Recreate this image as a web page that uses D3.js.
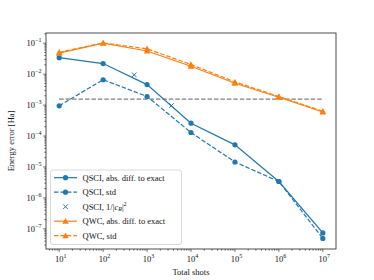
<!DOCTYPE html>
<html>
<head>
<meta charset="utf-8">
<script src="https://cdn.jsdelivr.net/npm/d3@7"></script>
<style>
  html, body { margin: 0; padding: 0; background: #fff; }
  svg { display: block; font-family: "Liberation Serif", "DejaVu Serif", serif; }
</style>
</head>
<body>
<svg id="chart" width="374" height="280"></svg>
<script>
/* Energy error vs. total shots — log/log */

const shots    = [1e1, 1e2, 1e3, 1e4, 1e5, 1e6, 1e7];
const qsciAbs  = [0.034, 0.022, 0.0046, 2.6e-4, 5.2e-5, 3.4e-6, 7.4e-8];
const qsciStd  = [9.5e-4, 0.0066, 0.0019, 1.3e-4, 1.45e-5, 3.4e-6, 4.9e-8];
const crossShots = [510, 3600];
const crossVals  = [0.0095, 9.7e-4];
const qwcAbs   = [0.048, 0.1, 0.056, 0.018, 0.0051, 0.0018, 6.0e-4];
const qwcStd   = [0.051, 0.102, 0.066, 0.0205, 0.0056, 0.0019, 6.3e-4];
const refLevel = 1.55e-3;
const refShots = [1e1, 1e7];

const xTickExp = [1, 2, 3, 4, 5, 6, 7];
const yTickExp = [-7, -6, -5, -4, -3, -2, -1];

const BLUE = '#1f77b4', ORANGE = '#ff7f0e', GREY = '#7f7f7f';
const FS = 8.5, FS_SUP = 6;

const svg = d3.select('#chart');
const M = { left: 46, right: 336, top: 33, bottom: 249 };

const x = d3.scaleLog().domain([Math.pow(10, 0.7), Math.pow(10, 7.3)]).range([M.left, M.right]);
const y = d3.scaleLog().domain([Math.pow(10, -7.65), Math.pow(10, -0.67)]).range([M.bottom, M.top]);

/* ── ticks ── */
function minorTicks(lo, hi) {
  const out = [];
  for (let e = Math.floor(Math.log10(lo)); e <= Math.ceil(Math.log10(hi)); e++) {
    for (let k = 2; k <= 9; k++) {
      const v = k * Math.pow(10, e);
      if (v >= lo && v <= hi) out.push(v);
    }
  }
  return out;
}

const tickG = svg.append('g').attr('stroke', '#222').attr('stroke-width', 0.65);

minorTicks(...x.domain()).forEach(v => {
  tickG.append('line').attr('x1', x(v)).attr('x2', x(v))
    .attr('y1', M.bottom).attr('y2', M.bottom + 1.7);
});
minorTicks(...y.domain()).forEach(v => {
  tickG.append('line').attr('y1', y(v)).attr('y2', y(v))
    .attr('x1', M.left).attr('x2', M.left - 1.7);
});

function powLabel(sel, exp) {
  sel.append('tspan').text('10');
  sel.append('tspan').attr('dy', -3.8).attr('font-size', FS_SUP)
    .text(exp < 0 ? '\u2212' + (-exp) : String(exp));
}

xTickExp.forEach(e => {
  const px = x(Math.pow(10, e));
  tickG.append('line').attr('x1', px).attr('x2', px)
    .attr('y1', M.bottom).attr('y2', M.bottom + 2.9);
  const t = svg.append('text').attr('x', px + 1.5).attr('y', M.bottom + 13)
    .attr('text-anchor', 'middle').attr('font-size', FS).attr('fill', '#111');
  powLabel(t, e);
});

yTickExp.forEach(e => {
  const py = y(Math.pow(10, e));
  tickG.append('line').attr('y1', py).attr('y2', py)
    .attr('x1', M.left).attr('x2', M.left - 2.9);
  const t = svg.append('text').attr('x', M.left - 4.5).attr('y', py + 3)
    .attr('text-anchor', 'end').attr('font-size', FS).attr('fill', '#111');
  powLabel(t, e);
});

/* ── axis labels ── */
svg.append('text')
  .attr('x', (M.left + M.right) / 2).attr('y', 275)
  .attr('text-anchor', 'middle').attr('font-size', FS).attr('fill', '#111')
  .text('Total shots');

svg.append('text')
  .attr('transform', `translate(14, ${(M.top + M.bottom) / 2}) rotate(-90)`)
  .attr('text-anchor', 'middle').attr('font-size', FS).attr('fill', '#111')
  .text('Energy error [Ha]');

/* ── data ── */
const plot = svg.append('g');
const line = d3.line().x(d => x(d[0])).y(d => y(d[1]));
const dash = '4.5,1.95';

function series(vals, color, dashed, marker) {
  const pts = shots.map((s, i) => [s, vals[i]]);
  plot.append('path').datum(pts)
    .attr('d', line).attr('fill', 'none')
    .attr('stroke', color).attr('stroke-width', 1.2)
    .attr('stroke-dasharray', dashed ? dash : null);
  pts.forEach(p => drawMarker(plot, x(p[0]), y(p[1]), marker, color));
}

function drawMarker(g, cx, cy, kind, color) {
  if (kind === 'o') {
    g.append('circle').attr('cx', cx).attr('cy', cy).attr('r', 2.6).attr('fill', color);
  } else if (kind === '^') {
    const s = 3.2;
    g.append('path')
      .attr('d', `M${cx},${cy - s}L${cx + s},${cy + s * 0.8}L${cx - s},${cy + s * 0.8}Z`)
      .attr('fill', color);
  } else if (kind === 'x') {
    const s = 2.3;
    g.append('path')
      .attr('d', `M${cx - s},${cy - s}L${cx + s},${cy + s}M${cx - s},${cy + s}L${cx + s},${cy - s}`)
      .attr('stroke', color).attr('stroke-width', 1).attr('fill', 'none');
  }
}

/* reference level */
plot.append('path')
  .datum(refShots.map(s => [s, refLevel]))
  .attr('d', line).attr('fill', 'none')
  .attr('stroke', GREY).attr('stroke-width', 1.2).attr('stroke-dasharray', dash);

series(qsciAbs, BLUE, false, 'o');
series(qsciStd, BLUE, true, 'o');
crossShots.forEach((s, i) => drawMarker(plot, x(s), y(crossVals[i]), 'x', BLUE));
series(qwcAbs, ORANGE, false, '^');
series(qwcStd, ORANGE, true, '^');

/* frame */
svg.append('rect')
  .attr('x', M.left).attr('y', M.top)
  .attr('width', M.right - M.left).attr('height', M.bottom - M.top)
  .attr('fill', 'none').attr('stroke', '#222').attr('stroke-width', 0.8);

/* ── legend ── */
const legendItems = [
  { label: 'QSCI, abs. diff. to exact', color: BLUE, dashed: false, marker: 'o' },
  { label: 'QSCI, std', color: BLUE, dashed: true, marker: 'o' },
  { label: 'QSCI, 1/|c_R|²', color: BLUE, dashed: null, marker: 'x' },
  { label: 'QWC, abs. diff. to exact', color: ORANGE, dashed: false, marker: '^' },
  { label: 'QWC, std', color: ORANGE, dashed: true, marker: '^' },
];

const lg = svg.append('g');
lg.append('rect')
  .attr('x', 50.5).attr('y', 170).attr('width', 131).attr('height', 74.5)
  .attr('rx', 2.5).attr('fill', 'rgba(255,255,255,0.8)')
  .attr('stroke', '#d0d0d0').attr('stroke-width', 0.8);

legendItems.forEach((it, i) => {
  const cy = 177.7 + i * 14.5;
  if (it.dashed !== null) {
    lg.append('line').attr('x1', 54).attr('x2', 77).attr('y1', cy).attr('y2', cy)
      .attr('stroke', it.color).attr('stroke-width', 1.2)
      .attr('stroke-dasharray', it.dashed ? dash : null);
  }
  drawMarker(lg, 65.5, cy, it.marker, it.color);
  const t = lg.append('text').attr('x', 82.5).attr('y', cy + 3)
    .attr('font-size', FS).attr('fill', '#111');
  if (it.marker === 'x') {
    t.append('tspan').text('QSCI, 1/|');
    t.append('tspan').attr('font-style', 'italic').text('c');
    t.append('tspan').attr('font-style', 'italic').attr('font-size', FS_SUP).attr('dy', 1.5).text('R');
    t.append('tspan').attr('dy', -1.5).text('|');
    t.append('tspan').attr('font-size', FS_SUP).attr('dy', -3.4).text('2');
  } else {
    t.text(it.label);
  }
});
</script>
</body>
</html>
